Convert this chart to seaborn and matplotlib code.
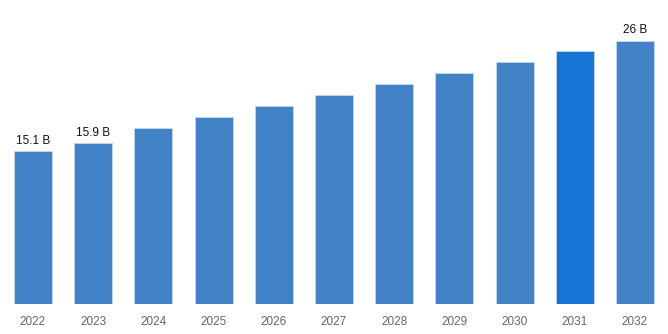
import matplotlib
matplotlib.use("Agg")
import matplotlib.pyplot as plt
from matplotlib import font_manager
import seaborn as sns
import pandas as pd

years = ["2022", "2023", "2024", "2025", "2026", "2027", "2028", "2029", "2030", "2031", "2032"]
values = [15.1, 15.9, 17.33, 18.42, 19.5, 20.6, 21.68, 22.77, 23.86, 24.95, 26.0]
value_labels = {"2022": "15.1 B", "2023": "15.9 B", "2032": "26 B"}
highlight_year = "2031"

base_color = "#4282C6"
highlight_color = "#1874D4"

sns.set_theme(style="white")
plt.rcParams["font.family"] = ["Liberation Sans", "DejaVu Sans"]

installed = {f.name for f in font_manager.fontManager.ttflist}
tick_family = "Liberation Sans Narrow" if "Liberation Sans Narrow" in installed else "Liberation Sans"
print("tick font:", tick_family)

df = pd.DataFrame({"year": years, "value": values})
palette = {y: (highlight_color if y == highlight_year else base_color) for y in years}

fig = plt.figure(figsize=(6.68, 3.34), dpi=100)
ax = fig.add_axes([2.9 / 668, 30.5 / 334, 662.2 / 668, 303.5 / 334])

sns.barplot(data=df, x="year", y="value", hue="year", palette=palette,
            legend=False, width=0.63, edgecolor="#c4d8ef", linewidth=0.6,
            saturation=1, ax=ax)

ax.set_ylim(0, 30.02)
ax.set_xlim(-0.5, len(years) - 0.5)
ax.set_xlabel("")
ax.set_ylabel("")
ax.set_yticks([])
ax.tick_params(axis="x", length=0, pad=9)
for lbl in ax.get_xticklabels():
    lbl.set_fontfamily(tick_family)
    lbl.set_fontsize(9.5 if tick_family.endswith("Narrow") else 8.5)
    lbl.set_color("#666666")
for s in ax.spines.values():
    s.set_visible(False)

for i, (y, v) in enumerate(zip(years, values)):
    if y in value_labels:
        ax.annotate(value_labels[y], (i, v), xytext=(0, 3), textcoords="offset points",
                    ha="center", va="bottom", fontsize=8.5, color="#111111")

fig.savefig("out.png", dpi=100)
